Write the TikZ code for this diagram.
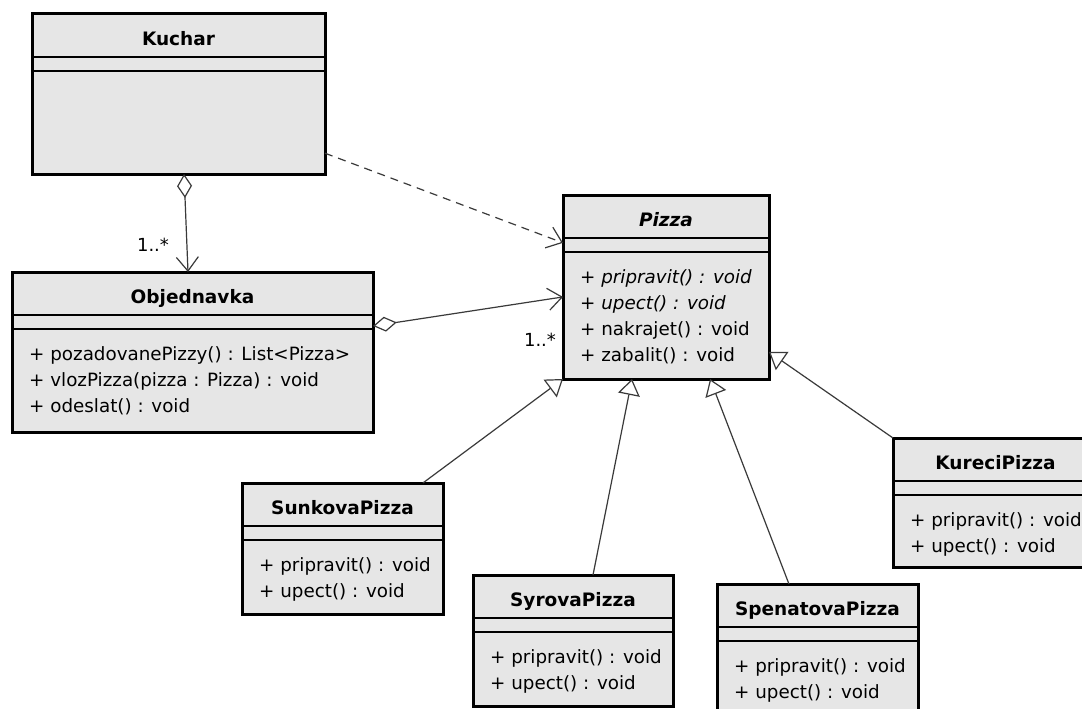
\documentclass[tikz,border=0pt]{standalone}
\usepackage{fontspec}
\setmainfont{DejaVu Sans}
\usetikzlibrary{arrows.meta,calc}

\definecolor{boxgray}{HTML}{E6E6E6}
\definecolor{linkgray}{HTML}{3A3A3A}

\tikzset{
  classbox/.style={draw=black, line width=3pt, fill=boxgray, inner sep=0pt,
    outer sep=0pt, anchor=north west},
  sepline/.style={draw=black, line width=1.4pt},
  classtitle/.style={font=\fontsize{18.5}{22}\selectfont\bfseries, anchor=base, inner sep=0pt},
  ops/.style={font=\fontsize{18.3}{26}\selectfont, align=left, anchor=north west, inner sep=0pt},
  mult/.style={font=\fontsize{18}{21}\selectfont, inner sep=0pt},
  link/.style={draw=linkgray, line width=1.2pt},
  opentip/.style={-{Straight Barb[length=14pt,width=22pt,line width=1.2pt]}},
  assoc/.style={link, {Diamond[open,fill=white,length=24pt,width=15pt,line width=1.2pt]}-{Straight Barb[length=14pt,width=22pt,line width=1.2pt]}},
  depend/.style={link, dash pattern=on 8pt off 6pt, opentip},
  generalize/.style={link, -{Triangle[open,fill=white,length=16pt,width=22pt,line width=1.2pt]}},
}

% #1 name, #2 x, #3 y, #4 width, #5 height, #6 title, #7 operations
\newcommand\umlclass[7]{%
  \node[classbox, minimum width=#4pt, minimum height=#5pt] (#1) at (#2,#3) {};
  \draw[sepline] ([yshift=-43pt]#1.north west) -- ([yshift=-43pt]#1.north east);
  \draw[sepline] ([yshift=-57pt]#1.north west) -- ([yshift=-57pt]#1.north east);
  \node[classtitle] (#1-title) at ([yshift=-31.5pt]#1.north) {#6};
  \node[ops] (#1-ops) at ([xshift=17pt,yshift=-74pt]#1.north west) {#7};
}

\begin{document}
\begin{tikzpicture}[x=1pt, y=-1pt]
  \clip (0,0) rectangle (1082,709);
  \fill[white] (0,0) rectangle (1082,709);

  \umlclass{kuchar}{32}{14}{293}{160}{Kuchar}{}
  \umlclass{objednavka}{12}{272}{361}{160}{Objednavka}
    {+ pozadovanePizzy() : List<Pizza>\\+ vlozPizza(pizza : Pizza) : void\\+ odeslat() : void}
  \umlclass{pizza}{563}{195}{206}{184}{\itshape Pizza}
    {+ \textit{pripravit() : void}\\+ \textit{upect() : void}\\+ nakrajet() : void\\+ zabalit() : void}
  \umlclass{sunkova}{242}{483}{201}{131}{SunkovaPizza}
    {+ pripravit() : void\\+ upect() : void}
  \umlclass{syrova}{473}{575}{200}{131}{SyrovaPizza}
    {+ pripravit() : void\\+ upect() : void}
  \umlclass{spenatova}{717}{584}{201}{140}{SpenatovaPizza}
    {+ pripravit() : void\\+ upect() : void}
  \umlclass{kureci}{893}{438}{205}{129}{KureciPizza}
    {+ pripravit() : void\\+ upect() : void}

  % aggregations
  \draw[assoc] ($(kuchar.south west)!0.519!(kuchar.south east)$)
            -- ($(objednavka.north west)!0.4875!(objednavka.north east)$);
  \draw[assoc] ($(objednavka.north east)!0.3375!(objednavka.south east)$)
            -- ($(pizza.north west)!0.554!(pizza.south west)$);
  \node[mult] (m1) at (153,245) {1..*};
  \node[mult] (m2) at (540,340) {1..*};

  % dependency
  \draw[depend] ($(kuchar.north east)!0.87!(kuchar.south east)$)
             -- ($(pizza.north west)!0.26!(pizza.south west)$);

  % generalizations
  \draw[generalize] ($(sunkova.north west)!0.9!(sunkova.north east)$) -- (pizza.south west);
  \draw[generalize] ($(syrova.north west)!0.6!(syrova.north east)$)
                 -- ($(pizza.south west)!0.335!(pizza.south east)$);
  \draw[generalize] ($(spenatova.north west)!0.358!(spenatova.north east)$)
                 -- ($(pizza.south west)!0.714!(pizza.south east)$);
  \draw[generalize] (kureci.north west)
                 -- ($(pizza.north east)!0.853!(pizza.south east)$);
\end{tikzpicture}
\end{document}
